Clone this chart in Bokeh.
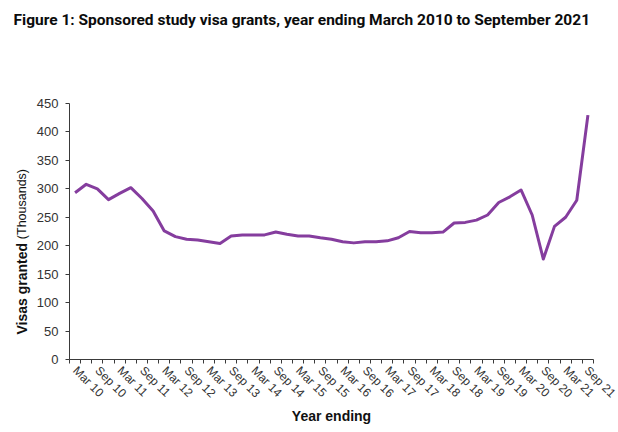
import math
from bokeh.plotting import figure
from bokeh.models import FixedTicker, Label
from bokeh.embed import file_html
from bokeh.resources import INLINE

# Quarter-end labels (year ending ...)
quarters = [
    "Mar 10", "Jun 10", "Sep 10", "Dec 10",
    "Mar 11", "Jun 11", "Sep 11", "Dec 11",
    "Mar 12", "Jun 12", "Sep 12", "Dec 12",
    "Mar 13", "Jun 13", "Sep 13", "Dec 13",
    "Mar 14", "Jun 14", "Sep 14", "Dec 14",
    "Mar 15", "Jun 15", "Sep 15", "Dec 15",
    "Mar 16", "Jun 16", "Sep 16", "Dec 16",
    "Mar 17", "Jun 17", "Sep 17", "Dec 17",
    "Mar 18", "Jun 18", "Sep 18", "Dec 18",
    "Mar 19", "Jun 19", "Sep 19", "Dec 19",
    "Mar 20", "Jun 20", "Sep 20", "Dec 20",
    "Mar 21", "Jun 21", "Sep 21",
]

# Sponsored study visa grants (thousands)
visas = [
    293, 308, 300, 281, 292, 302, 283, 261, 226, 216,
    211.5, 210, 207, 204, 217, 219, 219, 219, 224, 220,
    217, 217, 214, 211.5, 207, 205, 207, 207, 208.6, 214,
    225, 223, 223, 224, 240, 241, 245, 254, 276, 286,
    298, 254, 176.5, 234, 250, 280, 429.5,
]

y_ticks = [0, 50, 100, 150, 200, 250, 300, 350, 400, 450]

title_text = "Figure 1: Sponsored study visa grants, year ending March 2010 to September 2021"
x_title = "Year ending"
y_title_bold = "Visas granted"
y_title_normal = "(Thousands)"

n = len(quarters)
xs = list(range(n))

p = figure(
    width=618, height=432,
    x_range=(-0.5, n - 0.5), y_range=(y_ticks[0], y_ticks[-1]),
    output_backend="svg", toolbar_location=None,
    min_border_left=69, min_border_right=25,
    min_border_top=103, min_border_bottom=73,
)
p.outline_line_color = None
p.grid.grid_line_color = None
p.background_fill_color = "white"
p.border_fill_color = "white"

p.line(xs, visas, line_color="#853D9E", line_width=3, line_join="round")

axis_color = "#3a3a3a"
label_color = "#333333"

# x axis
major = [i for i in xs if i % 2 == 0]
p.xaxis.ticker = FixedTicker(ticks=major, minor_ticks=[i - 0.5 for i in range(n + 1)])
p.xaxis.major_label_overrides = {i: quarters[i] for i in major}
p.xaxis.major_label_orientation = -math.pi / 4
p.xaxis.major_tick_out = 0
p.xaxis.major_tick_in = 0
p.xaxis.minor_tick_out = 4
p.xaxis.minor_tick_in = 0
p.xaxis.minor_tick_line_color = axis_color
p.xaxis.axis_line_color = axis_color
p.xaxis.major_label_text_font = "Liberation Sans"
p.xaxis.major_label_text_font_size = "12px"
p.xaxis.major_label_text_color = label_color
p.xaxis.major_label_standoff = 5
p.xaxis.axis_label = x_title
p.xaxis.axis_label_text_font = "Liberation Sans"
p.xaxis.axis_label_text_font_size = "14px"
p.xaxis.axis_label_text_font_style = "bold"
p.xaxis.axis_label_text_color = "#111111"
p.xaxis.axis_label_standoff = 0

# y axis
p.yaxis.ticker = FixedTicker(ticks=y_ticks)
p.yaxis.major_tick_out = 4
p.yaxis.major_tick_in = 0
p.yaxis.minor_tick_out = 0
p.yaxis.minor_tick_in = 0
p.yaxis.major_tick_line_color = axis_color
p.yaxis.axis_line_color = axis_color
p.yaxis.major_label_text_font = "Liberation Sans"
p.yaxis.major_label_text_font_size = "13px"
p.yaxis.major_label_text_color = label_color
p.yaxis.major_label_standoff = 7

# y-axis title (mixed weights), placed in the left side panel (not clipped)
p.add_layout(Label(
    x=-4.72, y=43.8, angle=math.pi / 2,
    text=y_title_bold, text_font="Liberation Sans", text_font_size="14px",
    text_font_style="bold", text_align="left", text_baseline="middle",
    text_color="#111111",
), "left")
p.add_layout(Label(
    x=-4.72, y=334.9, angle=math.pi / 2,
    text=y_title_normal, text_font="Liberation Sans", text_font_size="12.5px",
    text_align="right", text_baseline="middle", text_color="#111111",
), "left")

# chart title in the above panel
p.add_layout(Label(
    x=-5.52, y=596,
    text=title_text, text_font="Roboto", text_font_size="15.5px",
    text_font_style="bold", text_align="left", text_baseline="middle",
    text_color="#0b0c0c",
), "above")

open("out.html", "w").write(file_html(p, INLINE))
